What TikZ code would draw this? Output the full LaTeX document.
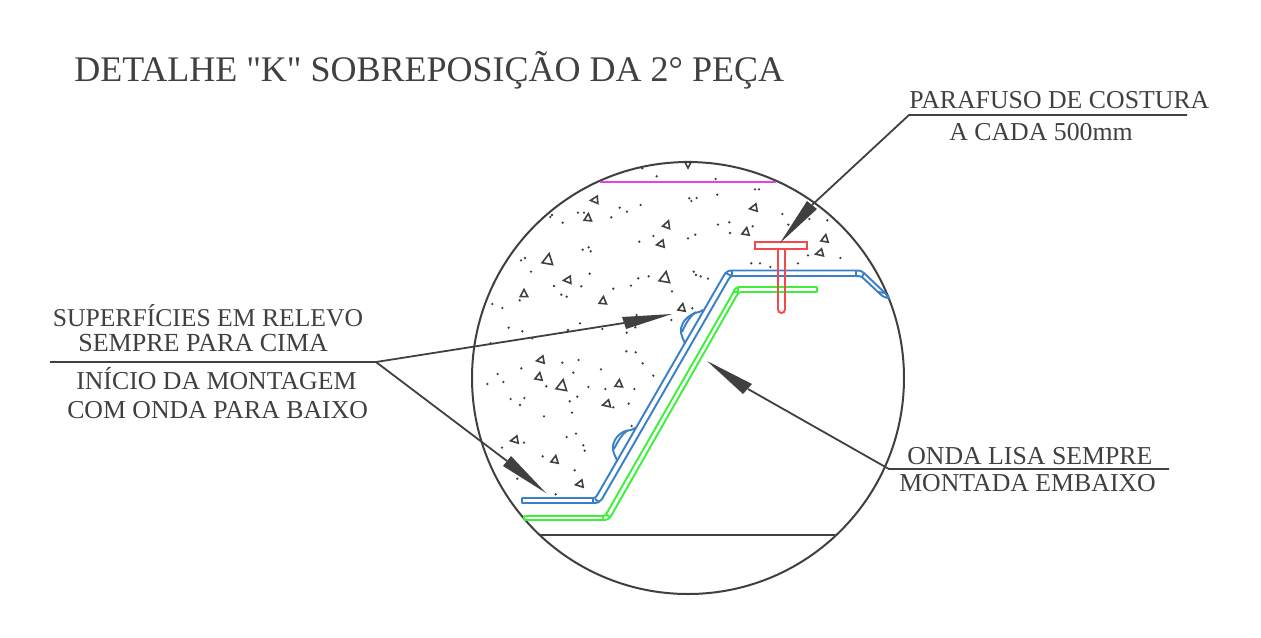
\documentclass[tikz,border=0pt]{standalone}
\usepackage{fontspec}
\newfontfamily\drawfont{Liberation Serif}
\setmainfont{Liberation Serif}
\definecolor{ink}{HTML}{404040}
\definecolor{sheetblue}{HTML}{3A80C8}
\definecolor{sheetgreen}{HTML}{3CF03C}
\definecolor{boltred}{HTML}{F54848}
\definecolor{lineMag}{HTML}{F03CE8}
\newcommand{\gravel}[4]{%
  \draw[pebble] ({#1+#3*cos(#4)},{#2-#3*sin(#4)})
    -- ({#1+#3*cos(#4+125)},{#2-#3*sin(#4+125)})
    -- ({#1+#3*cos(#4-125)},{#2-#3*sin(#4-125)}) -- cycle;}
\tikzset{
  label text/.style={inner sep=0pt,anchor=base west,text=ink,font=\drawfont\fontsize{19.35}{22}\selectfont},
  title text/.style={inner sep=0pt,anchor=base west,text=ink,font=\drawfont\fontsize{27}{30}\selectfont},
  leader/.style={draw=ink,line width=1.35pt,line join=round},
  head/.style={fill=ink,draw=none},
  pebble/.style={draw=ink,line width=1.2pt,line join=miter},
  grain/.style={fill=ink,draw=none},
  outline/.style={draw=ink,line width=1.5pt},
  sheetb/.style={draw=sheetblue,line width=1.45pt,line join=round},
  sheetg/.style={draw=sheetgreen,line width=1.45pt,line join=round},
  bolt/.style={draw=boltred,line width=1.45pt,line join=miter},
}
\begin{document}
\begin{tikzpicture}[x=0.75pt,y=-0.75pt]
\useasboundingbox (0,0) rectangle (1261,637);
% circle
\node[circle,outline,minimum size=324pt,inner sep=0pt] (view) at (688,378) {};
\draw[draw=lineMag,line width=1.45pt] (600,182) -- (776,182);
\draw[outline] (540,535) -- (835,535);
% grains
\foreach \x/\y in {487/55,530/79,628/145,634/153,650/144,482/165,419/173,441/185,394/202,294/188,312/188,216/195,211/201,248/218,478/275,520/258,646/254,624/265,326/292,308/299,332/304,135/324,123/331,153/365,329/371,42/400,222/408,304/409,244/434,260/440,119/451,37/462,67/474,400/416,453/407,475/385,506/379,641/365,648/375,576/424,637/475,470/495,574/510,300/520,86/533,127/544,264/540,367/537,440/548,466/532,157/565,32/580}
  \fill[grain] (480+\x/3,150+\y/3) circle (1.3);
\foreach \x/\y in {107/87,225/118,237/118,112/134,307/192,388/207,442/211,148/217,114/224,325/224,218/229,150/249,384/316,481/324,354/340,214/340,240/340,271/351,62/379,84/386}
  \fill[grain] (680+\x/3,150+\y/3) circle (1.3);
\foreach \x/\y in {439/34,467/37,488/70,520/107,53/102,124/85,247/68,296/60,280/98,363/88,22/132,70/126,199/139,325/141,376/147,463/147,92/177,133/174,120/195,269/184,292/170,400/202,446/191,276/218,192/229,455/258,260/291,288/281,310/316,314/332,132/308,66/323,188/349,284/391,112/416,227/463}
  \fill[grain] (480+\x/3,340+\y/3) circle (1.3);
% pebbles
\gravel{595}{200}{4.5}{185}\gravel{588}{218}{4.5}{85}\gravel{667}{225}{4.5}{70}
\gravel{661}{244}{4.5}{190}\gravel{548}{260}{6.5}{80}\gravel{568}{280}{4.5}{185}
\gravel{665}{278}{6.5}{80}\gravel{524}{294}{4.5}{90}\gravel{603}{301}{4.5}{85}
\gravel{682}{308}{4.5}{80}\gravel{688}{164}{4}{270}\gravel{754}{208}{4.5}{190}
\gravel{746}{232}{4.5}{80}\gravel{825}{239}{4.5}{80}\gravel{820}{253}{4.5}{195}
\gravel{541}{360}{4.5}{190}\gravel{539}{377}{4.5}{80}\gravel{562}{386}{6.5}{80}
\gravel{619}{384}{4.5}{85}\gravel{607}{404}{4.5}{195}\gravel{515}{440}{4.5}{190}
\gravel{555}{460}{4.5}{80}\gravel{580}{484}{4.5}{190}
% green sheet
\draw[sheetg] (524,516) -- (603,516) .. controls (605,516) and (605.5,515) .. (606.5,513.5)
  -- (733,293) .. controls (734.5,289) and (736,287) .. (740,287) -- (817,287) -- (817,292) -- (741,292)
  .. controls (739,292) and (738,293.5) .. (737,295) -- (611,516) .. controls (609,519) and (607,520) .. (603,520) -- (524,520) -- cycle;
\draw[sheetg] (603,516) -- (603,520) (606,514.5) -- (610,517) (733,292) -- (738,292) (738,287) -- (738,292);
% blue sheet
\draw[sheetb] (522,498) -- (593,498) .. controls (595,498) and (596,497.5) .. (597,495.5)
  -- (725,273.5) .. controls (727,271) and (729,270.5) .. (733,270.5) -- (856,270.5)
  .. controls (860,270.5) and (862,271) .. (864,273) -- (885,293) -- (889,298)
  .. controls (884,298) and (881,295) .. (878,292) -- (862,277) .. controls (860,276) and (858,276) .. (856,276)
  -- (733,276) .. controls (731,276) and (730,277) .. (729,278.5) -- (602,499)
  .. controls (600,502) and (598,503) .. (593,503) -- (522,503) -- cycle;
\draw[sheetb] (593,498) -- (593,503) (595,499) -- (599,502) (725.5,273) -- (732,276) (732,270.5) -- (732,276)
  (856,270.5) -- (856,276) (864,273) -- (862,277) (878,292) -- (885,293);
% reliefs
\draw[sheetb] (703,310) .. controls (699,313) and (695,312) .. (691,315) .. controls (684,319) and (680,326) .. (681,333) .. controls (681,337) and (684,339) .. (685,344);
\draw[sheetb] (696,312) .. controls (690,316) and (686,323) .. (682,332);
\draw[sheetb] (635,428) .. controls (631,431) and (627,430) .. (623,432) .. controls (616,436) and (612,443) .. (613,450) .. controls (613,454) and (616,456) .. (617,461);
\draw[sheetb] (628,430) .. controls (622,434) and (618,441) .. (614,449);
% bolt
\draw[bolt] (755,241.7) rectangle (807,249);
\draw[bolt] (778,249) -- (778,309.5) arc[start angle=180,end angle=0,radius=3.5] -- (785,249);
% leaders
\coordinate (tipbolt) at (780,243);
\coordinate (basebolta) at (807,201);
\coordinate (baseboltb) at (817,209);
\coordinate (elbowbolt) at (909,115);
\coordinate (endbolt) at (1187,115);
\draw[leader] (endbolt) -- (elbowbolt) -- (812,205);
\fill[head] (tipbolt) -- (basebolta) -- (baseboltb) -- cycle;
\coordinate (elbowleft) at (376,362);
\coordinate (endleft) at (50,362);
\coordinate (tiprelief) at (672,314);
\coordinate (startbase) at (546,493);
\draw[leader] (endleft) -- (elbowleft) -- (624,323);
\draw[leader] (elbowleft) -- (507,461);
\fill[head] (tiprelief) -- (622,317) -- (626,329) -- cycle;
\fill[head] (startbase) -- (511,456) -- (503,466) -- cycle;
\coordinate (elbowright) at (889,469);
\coordinate (endright) at (1169,469);
\coordinate (tipgreen) at (707,361);
\draw[leader] (endright) -- (elbowright) -- (748,389);
\fill[head] (tipgreen) -- (752,384) -- (743,394) -- cycle;
% texts
\node[title text] (title) at (74,81) {DETALHE "K" SOBREPOSIÇÃO DA 2° PEÇA};
\node[label text] (t1) at (909,108) {PARAFUSO DE COSTURA};
\node[label text] (t2) at (949,140) {A CADA 500mm};
\node[label text,font=\drawfont\fontsize{19.22}{22}\selectfont] (t3) at (52.5,326) {SUPERFÍCIES EM RELEVO};
\node[label text,font=\drawfont\fontsize{19.55}{22}\selectfont] (t4) at (78,351) {SEMPRE PARA CIMA};
\node[label text] (t5) at (76,389) {INÍCIO DA MONTAGEM};
\node[label text] (t6) at (67,418) {COM ONDA PARA BAIXO};
\node[label text] (t7) at (907,464) {ONDA LISA SEMPRE};
\node[label text] (t8) at (899,491) {MONTADA EMBAIXO};
\end{tikzpicture}
\end{document}
